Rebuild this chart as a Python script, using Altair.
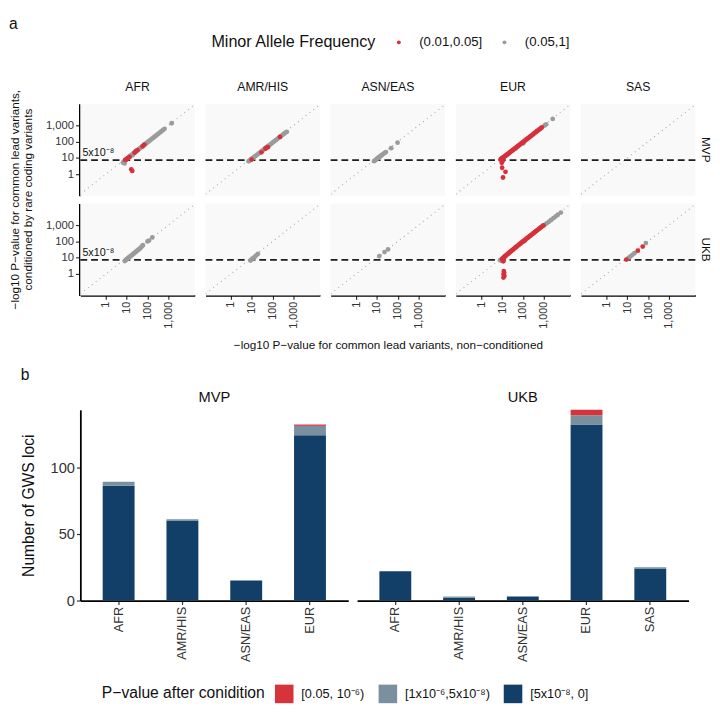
import altair as alt
import pandas as pd

# ---------------- categories / labels ----------------
POPS = ["AFR", "AMR/HIS", "ASN/EAS", "EUR", "SAS"]
COHORTS = ["MVP", "UKB"]
MAF_LEVELS = ["(0.01,0.05]", "(0.05,1]"]
MAF_COLORS = ["#D7303A", "#9B9B9B"]
GWS_THRESHOLD = 7.30103          # -log10(5e-8)
GWS_LABEL = "5x10⁻⁸"
GWS_LABEL_X = 0.075
LOG_TICKS = [1, 10, 100, 1000]
X_DOMAIN = [0.06, 18500]
Y_DOMAIN = [0.048, 21000]
DIAG_ENDS = [0.06, 18500]

# ---------------- panel a : points (non-conditioned x, conditioned y) ----------------
MVP_AFR_GREY_X = [6.6, 7.3, 8.2, 8.9, 9.6, 10.5, 11.5, 12.6, 14, 15.5, 17, 19, 21, 24, 27, 30, 34, 39, 44, 50,
                  57, 65, 75, 86, 98, 112, 128, 146, 168, 192, 220, 255, 295, 340, 400, 470, 560, 660, 1450, 8.0, 20]
MVP_AFR_GREY_Y = [5.2, 6.0, 6.9, 7.6, 8.2, 9.1, 10.0, 11.0, 12.3, 13.6, 15, 16.8, 18.7, 21.5, 24, 27, 30.5, 35, 39.5, 45,
                  51, 59, 68, 78, 89, 102, 117, 134, 154, 176, 202, 234, 272, 314, 370, 435, 520, 615, 1350, 4.6, 15]
MVP_AFR_RED_X = [8.6, 9.7, 11.2, 13.8, 24, 28, 33, 58, 70, 16.6, 18.5]
MVP_AFR_RED_Y = [7.5, 7.9, 9.6, 11.5, 21, 26, 30, 52, 66, 2.0, 1.6]

MVP_AMR_GREY_X = [7.0, 7.8, 8.7, 9.8, 11, 12.5, 14, 16, 18.5, 21, 24, 28, 32, 37, 43, 50, 58, 67, 78, 90,
                  105, 122, 142, 165, 192, 225, 262, 305, 355, 415, 480]
MVP_AMR_GREY_Y = [6.2, 6.9, 7.7, 8.6, 9.7, 11, 12.3, 14, 16.2, 18.5, 21, 24.5, 28, 32.5, 38, 44, 51, 59, 68, 79,
                  92, 107, 124, 144, 168, 197, 229, 267, 310, 362, 400]
MVP_AMR_RED_X = [9.7, 29, 45, 52, 59, 224]
MVP_AMR_RED_Y = [7.9, 22, 37, 43, 46, 196]

MVP_ASN_GREY_X = [7.2, 7.9, 8.7, 9.6, 10.6, 11.7, 13, 14.5, 16.2, 18, 20.5, 23.5, 27, 48, 97]
MVP_ASN_GREY_Y = [6.3, 6.9, 7.6, 8.4, 9.3, 10.3, 11.4, 12.7, 14.2, 15.8, 18, 20.5, 23, 40, 86]

MVP_EUR_GREY_X = [45, 105, 1090, 1300, 2680]
MVP_EUR_GREY_Y = [40, 79, 980, 1150, 2480]
MVP_EUR_RED_X = [8.4, 8.9, 9.4, 9.9, 10.4, 11, 11.7, 12.5, 13.4, 14.5, 15.7, 17, 18.5, 20, 22, 24, 26.5, 29, 32, 35,
                 39, 43, 48, 53, 59, 66, 74, 83, 93, 104, 117, 131, 147, 165, 185, 208, 235, 265, 300, 340,
                 385, 435, 490, 555, 630, 710, 800, 10.0, 14.5, 11.0, 9.6, 10.2, 10.8]
MVP_EUR_RED_Y = [7.9, 8.4, 8.9, 9.3, 9.8, 10.3, 11, 11.7, 12.5, 13.5, 14.6, 15.8, 17.2, 18.6, 20.5, 22.3, 24.6, 27, 29.8, 32.5,
                 36, 40, 44.6, 49, 55, 61, 69, 77, 86, 97, 109, 122, 137, 153, 172, 193, 218, 246, 279, 316,
                 358, 405, 456, 516, 586, 660, 745, 2.5, 1.4, 0.63, 5.0, 6.4, 7.0]

UKB_AFR_GREY_X = [8.1, 8.9, 9.8, 10.8, 12, 13.3, 14.8, 16.5, 18.4, 20.5, 23, 26, 29, 33, 37, 42, 48, 54, 60, 100, 118, 170]
UKB_AFR_GREY_Y = [6.2, 7.0, 7.8, 8.7, 9.7, 10.8, 12, 13.5, 15, 16.8, 19, 21.5, 24, 27.5, 31, 35.5, 41, 50, 58, 100, 112, 175]

UKB_AMR_GREY_X = [8.6, 9.6, 10.8, 12.2, 14, 16.5, 19.5]
UKB_AMR_GREY_Y = [6.6, 7.5, 8.6, 9.8, 11.5, 14, 17]

UKB_ASN_GREY_X = [13, 23, 34]
UKB_ASN_GREY_Y = [12.5, 22, 32]

UKB_EUR_GREY_X = [8.0, 8.8, 9.5, 120, 1050, 1350, 1750, 2250, 2900, 3700, 4700, 6600]
UKB_EUR_GREY_Y = [7.0, 7.7, 6.3, 105, 1000, 1250, 1600, 2050, 2650, 3400, 4300, 5900]
UKB_EUR_RED_X = [10, 10.6, 11.2, 11.9, 12.7, 13.6, 14.6, 15.8, 17.2, 18.8, 20.6, 22.6, 25, 27.7, 30.7, 34, 38, 42.5, 47.5, 53,
                 59, 66, 74, 83, 93, 104, 117, 131, 147, 165, 185, 208, 234, 263, 296, 333, 375, 422, 475, 535,
                 600, 675, 760, 855, 960, 11.5, 12.0, 12.4, 11.8, 12.8, 11.6]
UKB_EUR_RED_Y = [8.0, 8.7, 9.4, 10.1, 11, 11.9, 13, 14.2, 15.6, 17.2, 19, 21, 23.4, 26, 29, 32.3, 36.3, 40.8, 45.8, 51.3,
                 57.5, 64.5, 72.5, 81.5, 91.5, 103, 116, 130, 146, 164, 184, 207, 233, 262, 295, 332, 374, 421, 474, 534,
                 600, 675, 760, 855, 950, 6.0, 1.5, 1.2, 0.95, 0.75, 0.6]

UKB_SAS_GREY_X = [11.5, 14, 17.5, 22, 78]
UKB_SAS_GREY_Y = [9.8, 12, 15, 19, 79]
UKB_SAS_RED_X = [9.0, 32, 55]
UKB_SAS_RED_Y = [7.6, 27, 48]

# ---------------- panel b : GWS loci counts ----------------
P_BINS = ["[0.05, 10⁻⁶)", "[1x10⁻⁶,5x10⁻⁸)", "[5x10⁻⁸, 0]"]
P_COLORS = ["#D6333B", "#7B909E", "#123F68"]
MVP_POPS = ["AFR", "AMR/HIS", "ASN/EAS", "EUR"]
MVP_GWS = [86, 60, 15, 124]
MVP_SUGGESTIVE = [3, 1, 0, 7]
MVP_LOST = [0, 0, 0, 1]
UKB_POPS = ["AFR", "AMR/HIS", "ASN/EAS", "EUR", "SAS"]
UKB_GWS = [22, 2, 3, 132, 24]
UKB_SUGGESTIVE = [0, 1, 0, 7, 1]
UKB_LOST = [0, 0, 0, 4, 0]
BAR_MAX = 143

FONT = "Liberation Sans"

# ---------------- build scatter table ----------------
panels = {
    ("MVP", "AFR"): (MVP_AFR_GREY_X, MVP_AFR_GREY_Y, MVP_AFR_RED_X, MVP_AFR_RED_Y),
    ("MVP", "AMR/HIS"): (MVP_AMR_GREY_X, MVP_AMR_GREY_Y, MVP_AMR_RED_X, MVP_AMR_RED_Y),
    ("MVP", "ASN/EAS"): (MVP_ASN_GREY_X, MVP_ASN_GREY_Y, [], []),
    ("MVP", "EUR"): (MVP_EUR_GREY_X, MVP_EUR_GREY_Y, MVP_EUR_RED_X, MVP_EUR_RED_Y),
    ("MVP", "SAS"): ([], [], [], []),
    ("UKB", "AFR"): (UKB_AFR_GREY_X, UKB_AFR_GREY_Y, [], []),
    ("UKB", "AMR/HIS"): (UKB_AMR_GREY_X, UKB_AMR_GREY_Y, [], []),
    ("UKB", "ASN/EAS"): (UKB_ASN_GREY_X, UKB_ASN_GREY_Y, [], []),
    ("UKB", "EUR"): (UKB_EUR_GREY_X, UKB_EUR_GREY_Y, UKB_EUR_RED_X, UKB_EUR_RED_Y),
    ("UKB", "SAS"): (UKB_SAS_GREY_X, UKB_SAS_GREY_Y, UKB_SAS_RED_X, UKB_SAS_RED_Y),
}
rows = []
for (coh, pop), (gx, gy, rx, ry) in panels.items():
    for v in DIAG_ENDS:
        rows.append(dict(cohort=coh, pop=pop, kind="diag", x=v, y=v, maf=None, label=None))
    rows.append(dict(cohort=coh, pop=pop, kind="hline", x=None, y=GWS_THRESHOLD, maf=None, label=None))
    if pop == "AFR":
        rows.append(dict(cohort=coh, pop=pop, kind="label", x=GWS_LABEL_X, y=GWS_THRESHOLD, maf=None, label=GWS_LABEL))
    for x, y in zip(gx, gy):
        rows.append(dict(cohort=coh, pop=pop, kind="pt", x=x, y=y, maf=MAF_LEVELS[1], label=None))
    for x, y in zip(rx, ry):
        rows.append(dict(cohort=coh, pop=pop, kind="pt", x=x, y=y, maf=MAF_LEVELS[0], label=None))
sdf = pd.DataFrame(rows)

xs = alt.Scale(type="log", domain=X_DOMAIN, nice=False)
ys = alt.Scale(type="log", domain=Y_DOMAIN, nice=False)
x_axis = alt.Axis(values=LOG_TICKS, format=",", labelAngle=-90, title=None, labelFontSize=11)
y_axis = alt.Axis(values=LOG_TICKS, format=",", title=None, labelFontSize=11.5)

diag = alt.Chart().mark_line(color="#B0B0B0", strokeDash=[1, 4], strokeWidth=1.3, clip=True).encode(
    x=alt.X("x:Q", scale=xs, axis=x_axis), y=alt.Y("y:Q", scale=ys, axis=y_axis)
).transform_filter(alt.datum.kind == "diag")

hline = alt.Chart().mark_rule(color="#1E1E1E", strokeDash=[7, 4], strokeWidth=1.8).encode(
    y=alt.Y("y:Q", scale=ys, axis=y_axis)
).transform_filter(alt.datum.kind == "hline")

pts = alt.Chart().mark_circle(size=24, opacity=1).encode(
    x=alt.X("x:Q", scale=xs, axis=x_axis),
    y=alt.Y("y:Q", scale=ys, axis=y_axis),
    color=alt.Color("maf:N", scale=alt.Scale(domain=MAF_LEVELS, range=MAF_COLORS),
                    legend=alt.Legend(title="Minor Allele Frequency", orient="none", direction="horizontal",
                                      titleOrient="left", legendX=134, legendY=-70,
                                      titleFontSize=16.5, titleFontWeight="normal", titleColor="#111",
                                      labelFontSize=13.5, labelColor="#111", symbolSize=16, symbolType="circle",
                                      symbolStrokeWidth=0, titlePadding=16, labelOffset=14, columnPadding=15)),
).transform_filter(alt.datum.kind == "pt")

lab = alt.Chart().mark_text(align="left", baseline="bottom", dy=-2, fontSize=11, color="#111", font=FONT).encode(
    x=alt.X("x:Q", scale=xs, axis=x_axis), y=alt.Y("y:Q", scale=ys, axis=y_axis), text="label:N"
).transform_filter(alt.datum.kind == "label")

scatter = alt.layer(diag, hline, pts, lab, data=sdf).properties(
    width=117, height=94, view=alt.ViewBackground(fill="#F9F9F9", strokeWidth=0)
).facet(
    row=alt.Row("cohort:N", sort=COHORTS,
                header=alt.Header(title=["−log10 P−value for common lead variants,", "conditioned by rare coding variants"],
                                  titleOrient="left", labelOrient="right", labelAngle=90, labelFontSize=12,
                                  labelPadding=3, titleFontSize=12, titleFontWeight="normal", titlePadding=0)),
    column=alt.Column("pop:N", sort=POPS,
                      header=alt.Header(title="−log10 P−value for common lead variants, non−conditioned",
                                        titleOrient="bottom", labelOrient="top", labelFontSize=12.5,
                                        labelPadding=11, titleFontSize=12, titleFontWeight="normal", titlePadding=2)),
    spacing={"row": 8, "column": 9},
).properties(title=alt.Title("a", anchor="start", fontSize=16, fontWeight="normal", offset=4))

# ---------------- build bar tables ----------------
def bar_table(pops, gws, sugg, lost):
    out = []
    for i, p in enumerate(pops):
        for order, (cat, v) in enumerate([(P_BINS[2], gws[i]), (P_BINS[1], sugg[i]), (P_BINS[0], lost[i])]):
            if v > 0:
                out.append(dict(pop=p, cat=cat, n=v, ord=order))
    return pd.DataFrame(out)

def bar_chart(df, pops, title, show_y, show_legend, width):
    ycfg = dict(stack="zero", scale=alt.Scale(domain=[0, BAR_MAX], nice=False))
    if show_y:
        ycfg["axis"] = alt.Axis(values=[0, 50, 100], title="Number of GWS loci", titleFontSize=16,
                                titleFontWeight="normal", labelFontSize=15, titlePadding=14)
    else:
        ycfg["axis"] = None
    if show_legend:
        leg = alt.Legend(title="P−value after conidition", orient="none", direction="horizontal", titleOrient="left",
                         legendX=22, legendY=281, titleFontSize=16, titleFontWeight="normal", titleColor="#111",
                         labelFontSize=13, labelColor="#111", symbolType="square", symbolSize=360,
                         symbolStrokeWidth=0, titlePadding=10, labelOffset=8, columnPadding=14)
    else:
        leg = None
    return alt.Chart(df).mark_bar().encode(
        x=alt.X("pop:N", sort=pops, scale=alt.Scale(paddingInner=0.5, paddingOuter=0.35),
                axis=alt.Axis(title=None, labelAngle=-90, labelFontSize=13)),
        y=alt.Y("n:Q", **ycfg),
        color=alt.Color("cat:N", scale=alt.Scale(domain=P_BINS, range=P_COLORS), legend=leg),
        order=alt.Order("ord:Q"),
    ).properties(width=width, height=195,
                 title=alt.Title(title, fontSize=15, fontWeight="normal", offset=5))

mvp_bars = bar_chart(bar_table(MVP_POPS, MVP_GWS, MVP_SUGGESTIVE, MVP_LOST), MVP_POPS, "MVP", True, True, 274)
ukb_bars = bar_chart(bar_table(UKB_POPS, UKB_GWS, UKB_SUGGESTIVE, UKB_LOST), UKB_POPS, "UKB", False, False, 339)

bars = alt.hconcat(mvp_bars, ukb_bars, spacing=9, bounds="flush").resolve_scale(color="independent").properties(
    title=alt.Title("b", anchor="start", fontSize=16, fontWeight="normal", offset=8))

chart = alt.vconcat(scatter, bars, spacing=16).resolve_scale(color="independent").properties(
    padding=0
).configure(font=FONT).configure_axis(
    domainColor="#000", domainWidth=1.8, tickColor="#333", tickWidth=1.2, tickSize=4, grid=False,
    labelColor="#333", titleColor="#111", labelPadding=2, labelFont=FONT, titleFont=FONT
).configure_header(
    labelFont=FONT, titleFont=FONT, labelColor="#111", titleColor="#111"
).configure_view(strokeWidth=0).configure_title(font=FONT, color="#111").configure_legend(
    labelFont=FONT, titleFont=FONT
)

chart.save("out.html", embed_options={"renderer": "svg", "actions": False})
